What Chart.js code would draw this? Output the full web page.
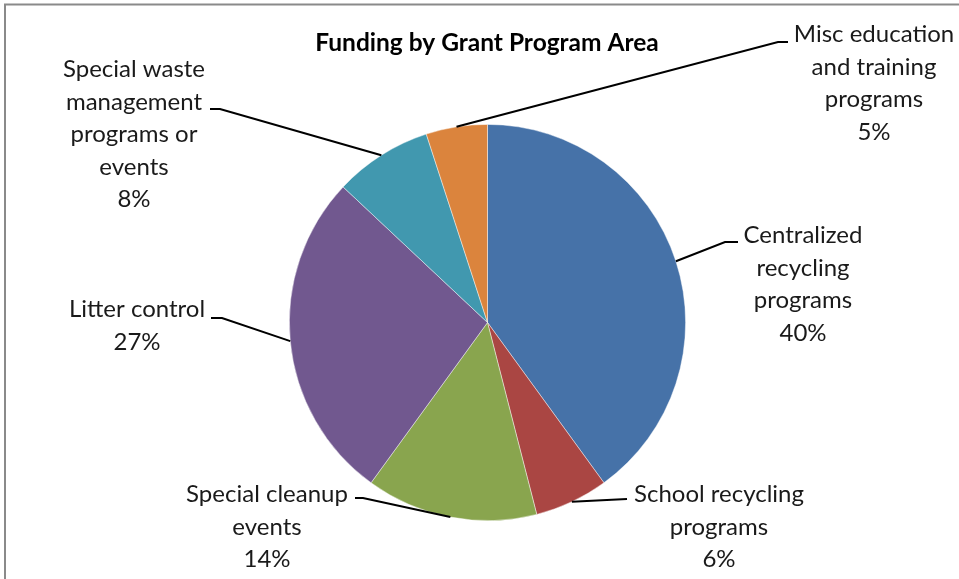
<!DOCTYPE html>
<html>
<head>
<meta charset="utf-8">
<title>Funding by Grant Program Area</title>
<script src="https://cdn.jsdelivr.net/npm/chart.js@4/dist/chart.umd.min.js"></script>
<style>
  html, body { margin: 0; padding: 0; background: #ffffff; }
  #wrap { width: 959px; height: 579px; }
</style>
</head>
<body>
<div id="wrap"><canvas id="chart" width="959" height="579"></canvas></div>
<script>
// Grant program areas, clockwise from 12 o'clock
const categories = [
  'Centralized recycling programs',
  'School recycling programs',
  'Special cleanup events',
  'Litter control',
  'Special waste management programs or events',
  'Misc education and training programs'
];
// Share of funding, percent
const shares = [40, 6, 14, 27, 8, 5];
// Wrapped label text for each slice (percentage is appended below)
const labelLines = [
  ['Centralized', 'recycling', 'programs'],
  ['School recycling', 'programs'],
  ['Special cleanup', 'events'],
  ['Litter control'],
  ['Special waste', 'management', 'programs or', 'events'],
  ['Misc education', 'and training', 'programs']
];
const sliceColors = ['#4672A8', '#AA4643', '#89A54E', '#71588F', '#4198AF', '#DB843D'];

const titleText = 'Funding by Grant Program Area';
const FONT = "Lato, 'Open Sans', 'Noto Sans', sans-serif";

// Label placement: text block centre x, first baseline y, leader elbow and leader tip
const labelPlacement = [
  { cx: 803, y: 243, elbow: [725, 242], tip: [738, 242] },
  { cx: 719, y: 502, elbow: null,       tip: [627, 499] },
  { cx: 267, y: 502, elbow: [363, 498], tip: [355, 498] },
  { cx: 137, y: 317, elbow: [222, 318], tip: [211, 318] },
  { cx: 134, y: 77,  elbow: [220, 109], tip: [210, 109] },
  { cx: 874, y: 42,  elbow: [778, 42],  tip: [788, 42] }
];
const lineStep = 32.6;

const frameAndLabels = {
  id: 'frameAndLabels',
  beforeDraw(chart) {
    const ctx = chart.ctx;
    ctx.save();
    ctx.fillStyle = '#ffffff';
    ctx.fillRect(0, 0, chart.width, chart.height);
    ctx.strokeStyle = '#8a8a8a';
    ctx.lineWidth = 2;
    ctx.strokeRect(5, 4.5, chart.width + 20, chart.height + 20);
    ctx.restore();
  },
  afterDatasetsDraw(chart) {
    const ctx = chart.ctx;
    const meta = chart.getDatasetMeta(0);
    ctx.save();
    // title
    ctx.fillStyle = '#000000';
    ctx.font = 'bold 24.5px ' + FONT;
    ctx.textAlign = 'center';
    ctx.textBaseline = 'alphabetic';
    ctx.fillText(titleText, 487, 51);

    meta.data.forEach((arc, i) => {
      const p = arc.getProps(['x', 'y', 'startAngle', 'endAngle', 'outerRadius'], true);
      const mid = (p.startAngle + p.endAngle) / 2;
      const sx = p.x + Math.cos(mid) * p.outerRadius;
      const sy = p.y + Math.sin(mid) * p.outerRadius;
      const place = labelPlacement[i];

      // leader line
      ctx.strokeStyle = '#000000';
      ctx.lineWidth = 2;
      ctx.beginPath();
      ctx.moveTo(sx, sy);
      if (place.elbow) ctx.lineTo(place.elbow[0], place.elbow[1]);
      ctx.lineTo(place.tip[0], place.tip[1]);
      ctx.stroke();

      // label text
      const lines = labelLines[i].concat([shares[i] + '%']);
      ctx.fillStyle = '#1a1a1a';
      ctx.font = '24px ' + FONT;
      ctx.textAlign = 'center';
      lines.forEach((t, k) => {
        ctx.fillText(t, place.cx, place.y + k * lineStep);
      });
    });
    ctx.restore();
  }
};

new Chart(document.getElementById('chart'), {
  type: 'pie',
  data: {
    labels: categories,
    datasets: [{
      data: shares,
      backgroundColor: sliceColors,
      borderColor: 'rgba(255,255,255,0.55)',
      borderWidth: 0.8
    }]
  },
  options: {
    responsive: false,
    animation: false,
    devicePixelRatio: 1,
    layout: { padding: { left: 289, right: 273, top: 124, bottom: 58 } },
    plugins: {
      legend: { display: false },
      tooltip: { enabled: false },
      title: { display: false }
    }
  },
  plugins: [frameAndLabels]
});
</script>
</body>
</html>
